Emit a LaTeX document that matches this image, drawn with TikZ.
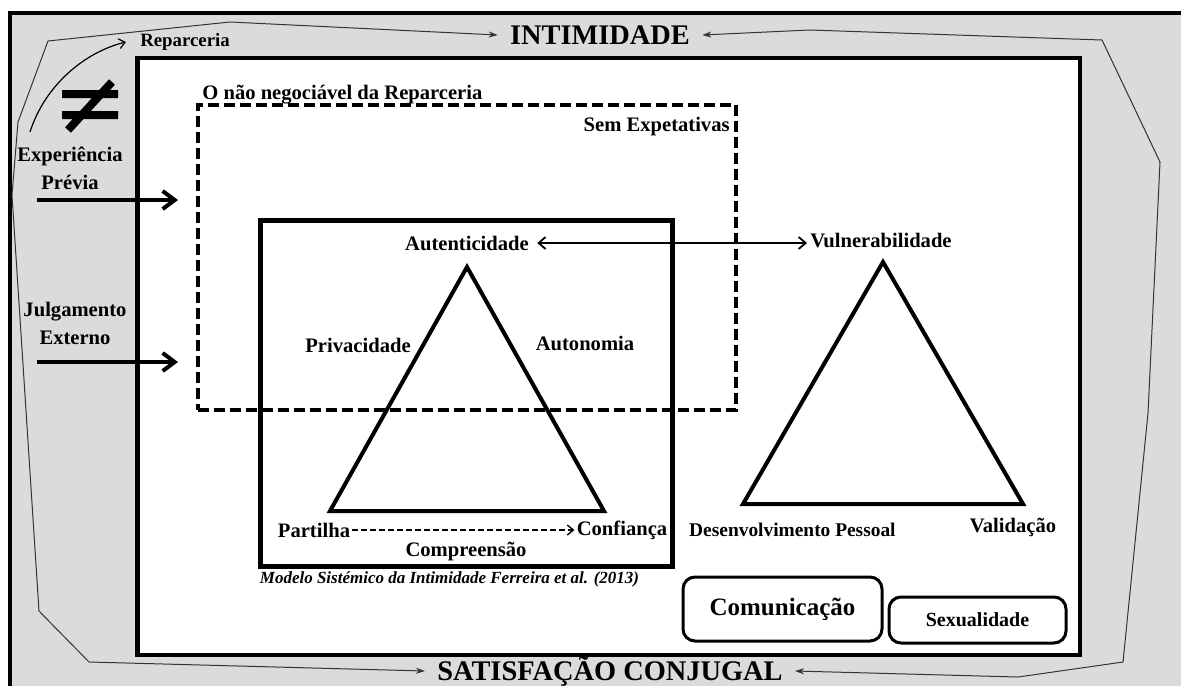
\documentclass[tikz,border=0pt]{standalone}
\usepackage{fontspec}
\setmainfont{Liberation Serif}
\usetikzlibrary{positioning}
\usetikzlibrary{arrows.meta}

\begin{document}
\begin{tikzpicture}[x=0.5pt, y=-0.5pt,
    txt/.style={font=\bfseries\fontsize{10.3}{14}\selectfont, inner sep=2pt},
    bigtitle/.style={font=\bfseries\fontsize{14.2}{16}\selectfont, inner xsep=6pt},
    thinline/.style={draw=black!80, line width=0.5pt, {Stealth[length=4.5pt,width=3pt]}-{Stealth[length=4.5pt,width=3pt]}},
    bigarrow/.style={line width=2pt, -{Straight Barb[length=6pt,width=9pt]}},
    smallarrow/.style={line width=0.9pt, {Straight Barb[length=3.5pt,width=6pt]}-{Straight Barb[length=3.5pt,width=6pt]}},
    roundbox/.style={draw, rounded corners=6pt, line width=1.5pt, fill=white}]
    \useasboundingbox (0,0) rectangle (1181,686);
    \fill[black!14] (10,13) rectangle (1181,686);
    \draw[line width=2pt] (10,686) -- (10,13) -- (1181,13);

    \node (quadro) [draw, fill=white, line width=2.2pt, minimum width=471.25pt, minimum height=298.5pt] at (608.75,356.5) {};
    \node (intimidade) [bigtitle] at (600,35) {INTIMIDADE};
    \node (satisfacao) [bigtitle] at (610,671) {SATISFAÇÃO CONJUGAL};
    \draw[thinline] (intimidade.west) -- (230,22) -- (48,41) -- (18,122) -- (12,195) -- (39,611) -- (89,662) -- (satisfacao.west);
    \draw[thinline] (intimidade.east) -- (810,30) -- (1102,40) -- (1160,162) -- (1148,413) -- (1123,662) -- (1018,677) -- (satisfacao.east);

    \node (reparceria) [txt, font=\bfseries\fontsize{9.4}{11}\selectfont, inner xsep=7pt] at (185,42) {Reparceria};
    \coordinate (repinicio) at (30,132);
    \draw[line width=0.6pt, -{Straight Barb[length=3pt,width=5pt]}] (repinicio) .. controls (45,85) and (85,52) .. (reparceria.west);
    \draw[line width=4pt] (62,94) -- (118,94) (62,115) -- (118,115) (68,130) -- (112,82);

    \node (experiencia) [txt, align=center] at (70,168) {Experiência\\Prévia};
    \node (julgamento) [txt, align=center] at (75,323) {Julgamento\\Externo};
    \coordinate (expini) at (37,200);
    \coordinate (expfim) at (178,200);
    \coordinate (julini) at (37,362);
    \coordinate (julfim) at (178,362);
    \draw[bigarrow] (expini) -- (expfim);
    \draw[bigarrow] (julini) -- (julfim);

    \node (naoneg) [draw, line width=2pt, dash pattern=on 5.5pt off 2.5pt, minimum width=269pt, minimum height=152.5pt] at (467,257.5) {};
    \node (onaoneg) [txt, anchor=base west] at (198,99) {O não negociável da Reparceria};
    \node (semexp) [txt, below left=5pt and 2pt of naoneg.north east] {Sem Expetativas};

    \node (modelo) [draw, line width=2.5pt, minimum width=206pt, minimum height=173pt] at (466,393) {};
    \node (legenda) [font=\bfseries\itshape\fontsize{8.5}{10}\selectfont, inner sep=1pt, below right=0.5pt and 0pt of modelo.south west] {Modelo Sistémico da Intimidade Ferreira et al. (2013)};
    \draw[line width=2pt] (467,267) -- (330,511) -- (604,511) -- cycle;
    \node (autenticidade) [txt, inner xsep=4pt] at (467,243) {Autenticidade};
    \node (privacidade) [txt] at (358,345) {Privacidade};
    \node (autonomia) [txt] at (585,343) {Autonomia};
    \node (partilha) [txt, inner xsep=1pt] at (314,530) {Partilha};
    \node (confianca) [txt, inner xsep=1pt] at (622,530) {Confiança};
    \node (compreensao) [txt] at (466,552) {Compreensão};
    \draw[line width=0.7pt, dash pattern=on 3pt off 1.5pt, -{Straight Barb[length=3pt,width=5pt]}] (partilha.east) -- (confianca.west);

    \draw[line width=2pt] (883,262) -- (743,504) -- (1023,504) -- cycle;
    \node (vulnerabilidade) [txt, inner xsep=1.5pt] at (881,241) {Vulnerabilidade};
    \draw[smallarrow] (autenticidade.east) -- (vulnerabilidade.west |- autenticidade.east);
    \node (desenvolvimento) [txt, font=\bfseries\fontsize{9.7}{12}\selectfont, anchor=east] at (900,530) {Desenvolvimento Pessoal};
    \node (validacao) [txt] at (1013,527) {Validação};

    \node (comunicacao) [roundbox, minimum width=99.5pt, minimum height=32pt, font=\bfseries\fontsize{12.5}{14}\selectfont] at (782.5,609) {Comunicação};
    \node (sexualidade) [roundbox, minimum width=88.5pt, minimum height=23pt, font=\bfseries\fontsize{10}{12}\selectfont] at (977.5,620) {Sexualidade};
\end{tikzpicture}
\end{document}
